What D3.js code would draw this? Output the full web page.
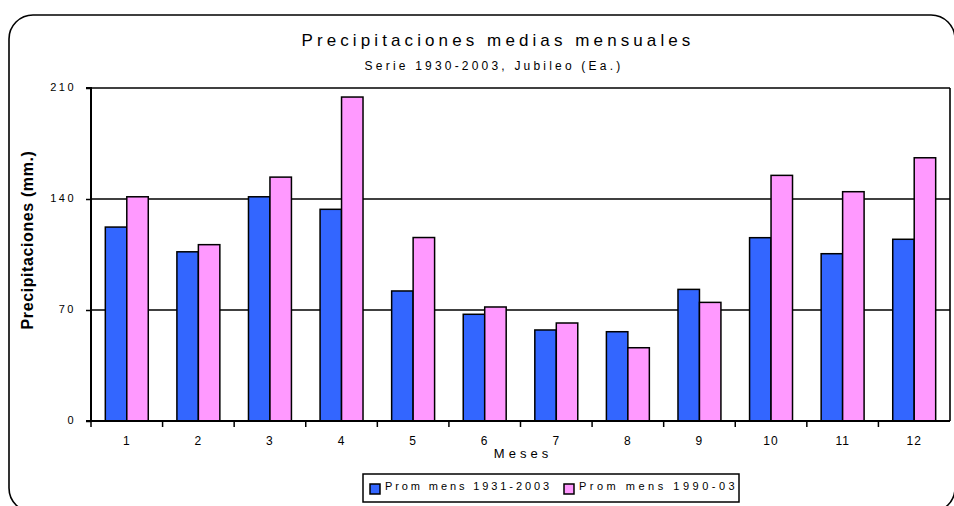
<!DOCTYPE html>
<html lang="es">
    <head>
        <meta charset="utf-8">
        <title>Precipitaciones medias mensuales</title>
        <script type="text/javascript" src="https://d3js.org/d3.v7.min.js"></script>
        <style type="text/css">
            body { margin: 0; background: #fff; }
            text { font-family: "Liberation Sans", Arial, sans-serif; fill: #000; }
        </style>
    </head>
    <body>
        <script type="text/javascript">

    // datos
    var meses = ["1","2","3","4","5","6","7","8","9","10","11","12"];
    var series = ["Prom mens 1931-2003", "Prom mens 1990-03"];
    var prom1931 = [122.3, 106.7, 141.4, 133.5, 82.0, 67.3, 57.4, 56.3, 83.0, 115.6, 105.5, 114.6];
    var prom1990 = [141.4, 111.2, 153.8, 204.3, 115.7, 71.9, 61.8, 46.2, 74.8, 154.9, 144.6, 166.0];
    var yTicks = [0, 70, 140, 210];
    var colores = ["#3366FF", "#FF99FF"];

    var w = 954;
    var h = 506;
    var pLeft = 91, pRight = 950, pTop = 88, pBottom = 421;

    var svg = d3.select("body")
                .append("svg")
                .attr("width", w)
                .attr("height", h);

    // marco exterior redondeado
    svg.append("rect")
        .attr("x", 9).attr("y", 15)
        .attr("width", 946).attr("height", 497)
        .attr("rx", 24).attr("ry", 24)
        .style("fill", "none")
        .style("stroke", "#000")
        .style("stroke-width", 1.6);

    //Create scale functions
    var x0 = d3.scaleBand()
                .domain(meses)
                .range([pLeft, pRight]);

    var x1 = d3.scaleBand()
                .domain(series)
                .range([x0.bandwidth() * 0.2, x0.bandwidth() * 0.8]);

    var yScale = d3.scaleLinear()
                .domain([0, 210])
                .range([pBottom, pTop]);

    // gridlines
    svg.append("g")
        .selectAll("line")
        .data(yTicks.slice(1))
        .enter()
        .append("line")
        .attr("x1", pLeft).attr("x2", pRight)
        .attr("y1", function(d) { return yScale(d); })
        .attr("y2", function(d) { return yScale(d); })
        .style("stroke", "#000")
        .style("stroke-width", 1.4);

    // borde derecho
    svg.append("line")
        .attr("x1", pRight).attr("x2", pRight)
        .attr("y1", pTop).attr("y2", pBottom)
        .style("stroke", "#000")
        .style("stroke-width", 1.6);

    //Create bars
    var datos = meses.map(function(m, i) {
        return [{s: series[0], v: prom1931[i], c: colores[0]},
                {s: series[1], v: prom1990[i], c: colores[1]}];
    });

    svg.append("g")
        .selectAll("g")
        .data(datos)
        .enter()
        .append("g")
        .attr("transform", function(d, i) { return "translate(" + x0(meses[i]) + ",0)"; })
        .selectAll("rect")
        .data(function(d) { return d; })
        .enter()
        .append("rect")
        .attr("x", function(d) { return x1(d.s); })
        .attr("y", function(d) { return yScale(d.v); })
        .attr("width", x1.bandwidth())
        .attr("height", function(d) { return pBottom - yScale(d.v); })
        .style("fill", function(d) { return d.c; })
        .style("stroke", "#000")
        .style("stroke-width", 1.5);

    //Create Y axis
    var yAxis = d3.axisLeft(yScale)
                .tickValues(yTicks)
                .tickSize(5)
                .tickPadding(10);

    var gy = svg.append("g")
        .attr("transform", "translate(" + pLeft + ",0)")
        .call(yAxis);
    gy.select(".domain").attr("stroke-width", 2).attr("d", "M-5," + pTop + "H0V" + pBottom + "H-5");
    gy.selectAll(".tick line").attr("stroke-width", 1.5);
    gy.selectAll(".tick text")
        .style("font-size", "11px")
        .style("letter-spacing", "2.5px")
        .attr("dy", "0.2em");

    //Create X axis
    var xAxis = d3.axisBottom(x0)
                .tickSize(0)
                .tickPadding(15);

    var gx = svg.append("g")
        .attr("transform", "translate(0," + pBottom + ")")
        .call(xAxis);
    gx.select(".domain").attr("stroke-width", 2).attr("d", "M" + pLeft + ",0H" + pRight);
    gx.selectAll(".tick text")
        .style("font-size", "12px")
        .style("letter-spacing", "1px");

    // marcas entre categorias
    gx.selectAll(".sep")
        .data(meses)
        .enter()
        .append("line")
        .attr("x1", function(d) { return x0(d); })
        .attr("x2", function(d) { return x0(d); })
        .attr("y1", 0).attr("y2", 6)
        .style("stroke", "#000")
        .style("stroke-width", 1.5);

    // titulos
    svg.append("text")
        .attr("x", 498).attr("y", 46)
        .attr("text-anchor", "middle")
        .style("font-size", "17px")
        .style("letter-spacing", "4.1px")
        .text("Precipitaciones medias mensuales");

    svg.append("text")
        .attr("x", 494).attr("y", 70)
        .attr("text-anchor", "middle")
        .style("font-size", "12px")
        .style("letter-spacing", "3.2px")
        .text("Serie 1930-2003, Jubileo (Ea.)");

    svg.append("text")
        .attr("x", 523).attr("y", 458)
        .attr("text-anchor", "middle")
        .style("font-size", "13px")
        .style("letter-spacing", "4px")
        .text("Meses");

    svg.append("text")
        .attr("transform", "translate(33,240) rotate(-90)")
        .attr("text-anchor", "middle")
        .style("font-size", "16px")
        .style("font-weight", "bold")
        .style("letter-spacing", "0.6px")
        .text("Precipitaciones (mm.)");

    // leyenda
    var leg = svg.append("g");
    leg.append("rect")
        .attr("x", 363).attr("y", 474)
        .attr("width", 376).attr("height", 28)
        .style("fill", "#fff")
        .style("stroke", "#000")
        .style("stroke-width", 1.5);

    var legX = [370, 564];
    var legSpacing = ["2.9px", "3.5px"];
    var items = leg.selectAll("g.item")
        .data(series)
        .enter()
        .append("g")
        .attr("class", "item")
        .attr("transform", function(d, i) { return "translate(" + legX[i] + ",484)"; });
    items.append("rect")
        .attr("width", 10).attr("height", 10)
        .style("fill", function(d, i) { return colores[i]; })
        .style("stroke", "#000")
        .style("stroke-width", 1.5);
    items.append("text")
        .attr("x", 15).attr("y", 6)
        .style("font-size", "11px")
        .style("letter-spacing", function(d, i) { return legSpacing[i]; })
        .text(function(d) { return d; });

        </script>
    </body>
</html>
